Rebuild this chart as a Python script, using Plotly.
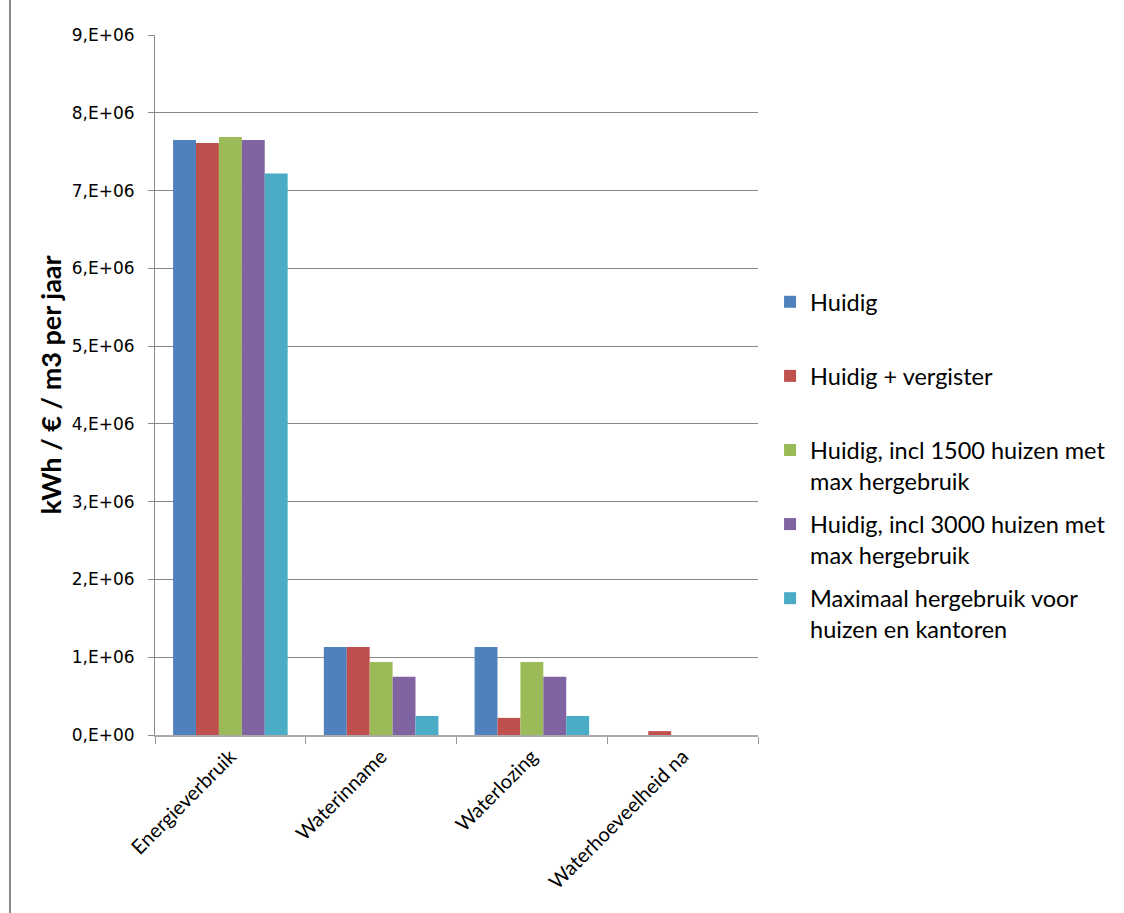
import plotly.graph_objects as go

categories = ["Energieverbruik", "Waterinname", "Waterlozing", "Waterhoeveelheid na"]
series_names = [
    "Huidig",
    "Huidig + vergister",
    "Huidig, incl 1500 huizen met<br>max hergebruik",
    "Huidig, incl 3000 huizen met<br>max hergebruik",
    "Maximaal hergebruik voor<br>huizen en kantoren",
]
huidig = [7.65e6, 1.13e6, 1.13e6, 0]
vergister = [7.61e6, 1.13e6, 0.22e6, 0.05e6]
incl1500 = [7.69e6, 0.94e6, 0.94e6, 0]
incl3000 = [7.65e6, 0.75e6, 0.75e6, 0]
maximaal = [7.22e6, 0.245e6, 0.245e6, 0]
series_values = [huidig, vergister, incl1500, incl3000, maximaal]
colors = ["#4F81BD", "#C0504D", "#9BBB59", "#8064A2", "#4BACC6"]

tick_vals = [i * 1e6 for i in range(10)]
tick_text = ["0,E+00"] + [f"{i},E+06" for i in range(1, 10)]

fig = go.Figure()
for i, (name, vals, col) in enumerate(zip(series_names, series_values, colors)):
    disp = name if "<br>" in name else name + "<br> "
    fig.add_trace(go.Bar(
        x=categories, y=vals, name=disp, marker_color=col,
        marker_line_width=0, legendgroup=f"g{i}",
    ))

fig.update_layout(
    width=1124, height=913,
    margin=dict(l=155, r=366, t=35, b=178),
    paper_bgcolor="white", plot_bgcolor="white",
    barmode="group", bargap=0.24, bargroupgap=0,
    font=dict(family="Lato", color="black"),
    legend=dict(
        x=1.02, xanchor="left", y=0.65, yanchor="top",
        font=dict(family="Lato", size=23.5, color="black"),
        valign="top", tracegroupgap=10, traceorder="grouped",
    ),
    xaxis=dict(
        tickangle=-45, tickfont=dict(family="Lato", size=20),
        tickson="boundaries", ticks="outside", ticklen=7, tickcolor="#999",
        showline=True, linecolor="#aaa", linewidth=2, showgrid=False,
    ),
    yaxis=dict(
        range=[0, 9e6], tickvals=tick_vals, ticktext=tick_text,
        tickfont=dict(family="DejaVu Sans", size=17),
        ticks="outside", ticklen=6, tickcolor="#888", ticklabelstandoff=10,
        showline=True, linecolor="#888", linewidth=1,
        showgrid=True, gridcolor="#888", gridwidth=1, zeroline=False,
        title=dict(text="<b>kWh / € / m3 per jaar</b>",
                   font=dict(family="Lato", size=27), standoff=2),
    ),
    shapes=[dict(type="line", xref="paper", yref="paper",
                 x0=-0.2405, x1=-0.2405, y0=-0.26, y1=1.06,
                 line=dict(color="#888", width=2))],
)

fig.write_html("out.html")
